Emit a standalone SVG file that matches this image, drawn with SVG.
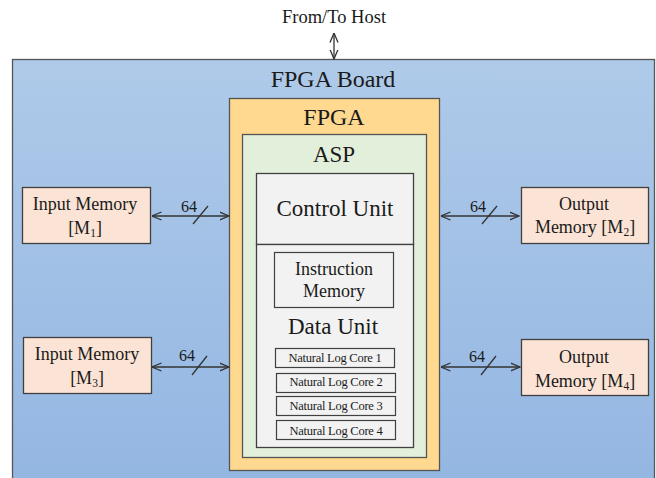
<svg xmlns="http://www.w3.org/2000/svg" width="656" height="478" viewBox="0 0 656 478" font-family="'Liberation Serif', 'DejaVu Serif', serif">
<defs>
<linearGradient id="boardGrad" x1="0" y1="0" x2="0" y2="1">
<stop offset="0" stop-color="#AFCAE9"/>
<stop offset="1" stop-color="#93B6E2"/>
</linearGradient>
<marker id="arr" viewBox="0 0 10 10" refX="9.5" refY="5" markerWidth="10" markerHeight="10" markerUnits="userSpaceOnUse" orient="auto-start-reverse">
<path d="M0,1 L9.5,5 L0,9" fill="none" stroke="#333" stroke-width="1.3"/>
</marker>
</defs>
<style>
text{font-family:'Liberation Serif','DejaVu Serif',serif;fill:#1a1a1a;text-anchor:middle}
.mem{fill:#FBE4D5;stroke:#404040;stroke-width:1.3}
.box{stroke:#555;stroke-width:1.3}
.core{fill:#F2F2F2;stroke:#404040;stroke-width:1.2}
.conn{stroke:#333;stroke-width:1.3;fill:none}
.t18{font-size:18px}
.t23{font-size:23px}
.core-t{font-size:12.5px;letter-spacing:-0.25px}
.sub{font-size:11.5px}
</style>
<text x="334" y="23" style="font-size:18.5px">From/To Host</text>
<g id="board">
<rect x="12.5" y="59.5" width="642" height="430" fill="url(#boardGrad)" stroke="#555" stroke-width="1.3"/>
<text x="333" y="87" style="font-size:24px">FPGA Board</text>
</g>
<g id="fpga">
<rect class="box" x="229.5" y="98.5" width="210" height="372" fill="#FFD98F"/>
<text x="334" y="125" style="font-size:24px">FPGA</text>
</g>
<g id="asp">
<rect class="box" x="242.5" y="134.5" width="184" height="323" fill="#E2EFDA"/>
<text x="334" y="162" class="t23">ASP</text>
</g>
<g id="control-unit">
<rect x="256.5" y="173.5" width="157" height="71" fill="#F2F2F2" stroke="#404040" stroke-width="1.3"/>
<text x="335" y="216" class="t23">Control Unit</text>
</g>
<g id="data-unit">
<rect x="256.5" y="244.5" width="157" height="203" fill="#F2F2F2" stroke="#404040" stroke-width="1.3"/>
<text x="333" y="334" class="t23">Data Unit</text>
</g>
<g id="instruction-memory">
<rect class="core" x="274.5" y="252.5" width="119" height="55"/>
<text x="334" y="275" class="t18">Instruction</text>
<text x="334" y="297" class="t18">Memory</text>
</g>
<g id="core1">
<rect class="core" x="275.5" y="348.5" width="119" height="19"/>
<text x="335" y="362" class="core-t">Natural Log Core 1</text>
</g>
<g id="core2">
<rect class="core" x="276.5" y="373.5" width="119" height="19"/>
<text x="336" y="386" class="core-t">Natural Log Core 2</text>
</g>
<g id="core3">
<rect class="core" x="276.5" y="396.5" width="119" height="19"/>
<text x="336" y="410" class="core-t">Natural Log Core 3</text>
</g>
<g id="core4">
<rect class="core" x="276.5" y="420.5" width="119" height="19"/>
<text x="336" y="435" class="core-t">Natural Log Core 4</text>
</g>
<g id="input-m1">
<rect class="mem" x="22.5" y="187.5" width="128" height="56"/>
<text x="85" y="210" class="t18">Input Memory</text>
<text x="85" y="234" class="t18">[M<tspan class="sub" dy="3">1</tspan><tspan dy="-3">]</tspan></text>
</g>
<g id="output-m2">
<rect class="mem" x="521.5" y="187.5" width="127" height="56"/>
<text x="584" y="210" class="t18">Output</text>
<text x="585" y="233" class="t18">Memory [M<tspan class="sub" dy="3">2</tspan><tspan dy="-3">]</tspan></text>
</g>
<g id="input-m3">
<rect class="mem" x="23.5" y="337.5" width="128" height="56"/>
<text x="87" y="360" class="t18">Input Memory</text>
<text x="87" y="384" class="t18">[M<tspan class="sub" dy="3">3</tspan><tspan dy="-3">]</tspan></text>
</g>
<g id="output-m4">
<rect class="mem" x="521.5" y="339.5" width="127" height="56"/>
<text x="584" y="363" class="t18">Output</text>
<text x="585" y="387" class="t18">Memory [M<tspan class="sub" dy="3">4</tspan><tspan dy="-3">]</tspan></text>
</g>
<g id="connectors">
<line class="conn" x1="334" y1="33" x2="334" y2="59" marker-start="url(#arr)" marker-end="url(#arr)"/>
<line class="conn" x1="152" y1="216" x2="229" y2="216" marker-start="url(#arr)" marker-end="url(#arr)"/>
<line class="conn" x1="193" y1="224" x2="208" y2="206"/>
<text x="189" y="212" style="font-size:16px">64</text>
<line class="conn" x1="441" y1="216" x2="519" y2="216" marker-start="url(#arr)" marker-end="url(#arr)"/>
<line class="conn" x1="482" y1="224" x2="497" y2="206"/>
<text x="478" y="212" style="font-size:16px">64</text>
<line class="conn" x1="152" y1="367" x2="229" y2="367" marker-start="url(#arr)" marker-end="url(#arr)"/>
<line class="conn" x1="192" y1="375" x2="207" y2="356"/>
<text x="187" y="361" style="font-size:16px">64</text>
<line class="conn" x1="441" y1="367" x2="520" y2="367" marker-start="url(#arr)" marker-end="url(#arr)"/>
<line class="conn" x1="481" y1="375" x2="496" y2="356"/>
<text x="477" y="362" style="font-size:16px">64</text>
</g>
</svg>
